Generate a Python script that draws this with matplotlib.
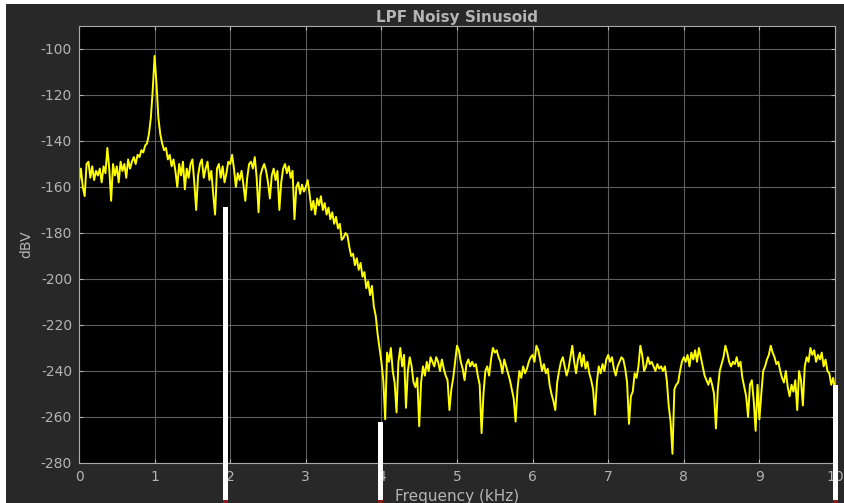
import numpy as np
import matplotlib
matplotlib.use("Agg")
import matplotlib.pyplot as plt
from matplotlib.patches import Rectangle

# spectrum, one value every 0.025 kHz (dBV)
seg_0_1 = [-158, -152, -160, -164, -150, -149, -156, -151, -157, -153,
           -155, -152, -158, -151, -154, -143, -152, -166, -150, -155,
           -151, -158, -149, -153, -150, -156, -148, -152, -149, -147,
           -150, -146, -147, -144, -145, -142, -141, -137, -130, -118]
seg_1_2 = [-103, -115, -130, -137, -141, -144, -143, -148, -146, -151,
           -148, -153, -160, -150, -155, -149, -161, -152, -156, -150,
           -148, -158, -170, -155, -150, -148, -156, -152, -149, -157,
           -153, -163, -172, -152, -150, -156, -151, -158, -154, -149]
seg_2_3 = [-150, -146, -152, -160, -154, -157, -153, -159, -166, -156,
           -150, -149, -152, -147, -156, -171, -155, -152, -150, -153,
           -158, -165, -155, -152, -157, -153, -170, -158, -152, -150,
           -154, -151, -156, -153, -174, -160, -158, -163, -159, -162]
seg_3_4 = [-160, -157, -163, -170, -166, -172, -165, -168, -164, -170,
           -167, -172, -169, -174, -171, -176, -173, -178, -176, -183,
           -182, -180, -181, -186, -190, -189, -194, -191, -196, -193,
           -199, -197, -204, -201, -207, -203, -212, -216, -224, -230]
seg_4_5 = [-236, -244, -261, -232, -236, -230, -240, -245, -258, -236,
           -230, -238, -233, -256, -240, -234, -238, -245, -247, -243,
           -264, -245, -238, -242, -236, -240, -234, -236, -238, -234,
           -236, -240, -235, -239, -242, -244, -257, -248, -243, -236]
seg_5_6 = [-229, -231, -236, -239, -244, -237, -235, -238, -236, -238,
           -237, -242, -246, -267, -250, -240, -238, -242, -235, -230,
           -232, -231, -234, -236, -241, -235, -238, -241, -244, -248,
           -252, -262, -248, -240, -243, -238, -241, -239, -236, -234]
seg_6_7 = [-233, -236, -229, -231, -235, -240, -237, -241, -239, -246,
           -250, -253, -257, -245, -240, -236, -234, -238, -242, -239,
           -234, -229, -236, -241, -235, -232, -238, -233, -239, -236,
           -241, -244, -248, -259, -245, -238, -241, -237, -240, -235]
seg_7_8 = [-233, -236, -234, -239, -242, -238, -236, -234, -235, -239,
           -245, -263, -251, -249, -241, -243, -238, -229, -233, -240,
           -238, -234, -237, -236, -238, -240, -237, -239, -238, -240,
           -238, -244, -255, -262, -276, -248, -246, -245, -240, -236]
seg_8_9 = [-234, -236, -233, -238, -232, -235, -231, -236, -230, -234,
           -238, -242, -244, -246, -243, -246, -250, -265, -248, -240,
           -237, -234, -229, -232, -236, -238, -236, -237, -234, -238,
           -236, -243, -247, -251, -260, -246, -244, -253, -266, -246]
seg_9_10 = [-261, -250, -240, -238, -235, -233, -229, -232, -234, -237,
            -236, -240, -243, -245, -240, -247, -251, -246, -249, -244,
            -257, -240, -244, -255, -238, -234, -236, -230, -233, -231,
            -236, -233, -235, -232, -238, -235, -240, -241, -246, -243,
            -248]

dbv = np.array(seg_0_1 + seg_1_2 + seg_2_3 + seg_3_4 + seg_4_5 +
               seg_5_6 + seg_6_7 + seg_7_8 + seg_8_9 + seg_9_10, dtype=float)
freq = np.linspace(0, 10, len(dbv))  # kHz

x_ticks = list(range(0, 11))
y_ticks = list(range(-280, -99, 20))

plt.rcParams['font.family'] = ['DejaVu Sans']
plt.rcParams['axes.unicode_minus'] = False

W, H = 844, 503
fig = plt.figure(figsize=(W / 100, H / 100), dpi=100, facecolor='#282828')

ax = fig.add_axes([79 / W, 1 - 463 / H, (835 - 79) / W, (463 - 26) / H])
ax.set_facecolor('black')
ax.plot(freq, dbv, color='#ffff00', lw=1.4)

ax.set_xlim(0, 10)
ax.set_ylim(-280, -90)
ax.set_xticks(x_ticks)
ax.set_yticks(y_ticks)
ax.grid(True, color='#5e5e5e', lw=0.8)
ax.set_axisbelow(True)
ax.tick_params(direction='in', length=3, colors='#b4b4b4', labelsize=10,
               top=True, right=True, pad=5)
for s in ax.spines.values():
    s.set_color('#a8a8a8')
    s.set_linewidth(0.8)

ax.set_title('LPF Noisy Sinusoid', color='#b4b4b4', fontsize=11,
             fontweight='bold', pad=3)
ax.set_xlabel('Frequency (kHz)', color='#b4b4b4', fontsize=11, labelpad=4)
ax.set_ylabel('dBV', color='#b4b4b4', fontsize=10, labelpad=5)

# thin white border of the screenshot (top and left)
fig.patches.append(Rectangle((0, 1 - 4 / H), 1, 4 / H, transform=fig.transFigure,
                             facecolor='white', edgecolor='none', zorder=5))
fig.patches.append(Rectangle((0, 0), 6 / W, 1, transform=fig.transFigure,
                             facecolor='white', edgecolor='none', zorder=5))

# white slider bars visible in the screenshot
for x0, y0 in [(223, 207), (378, 422), (833, 385)]:
    fig.patches.append(Rectangle((x0 / W, 3 / H), 5 / W, (H - 3 - y0) / H,
                                 transform=fig.transFigure, facecolor='white',
                                 edgecolor='none', zorder=5))
    fig.patches.append(Rectangle((x0 / W, 0), 5 / W, 3 / H,
                                 transform=fig.transFigure, facecolor='#8b1a1a',
                                 edgecolor='none', zorder=5))

fig.savefig('out.png', dpi=100, facecolor=fig.get_facecolor())
